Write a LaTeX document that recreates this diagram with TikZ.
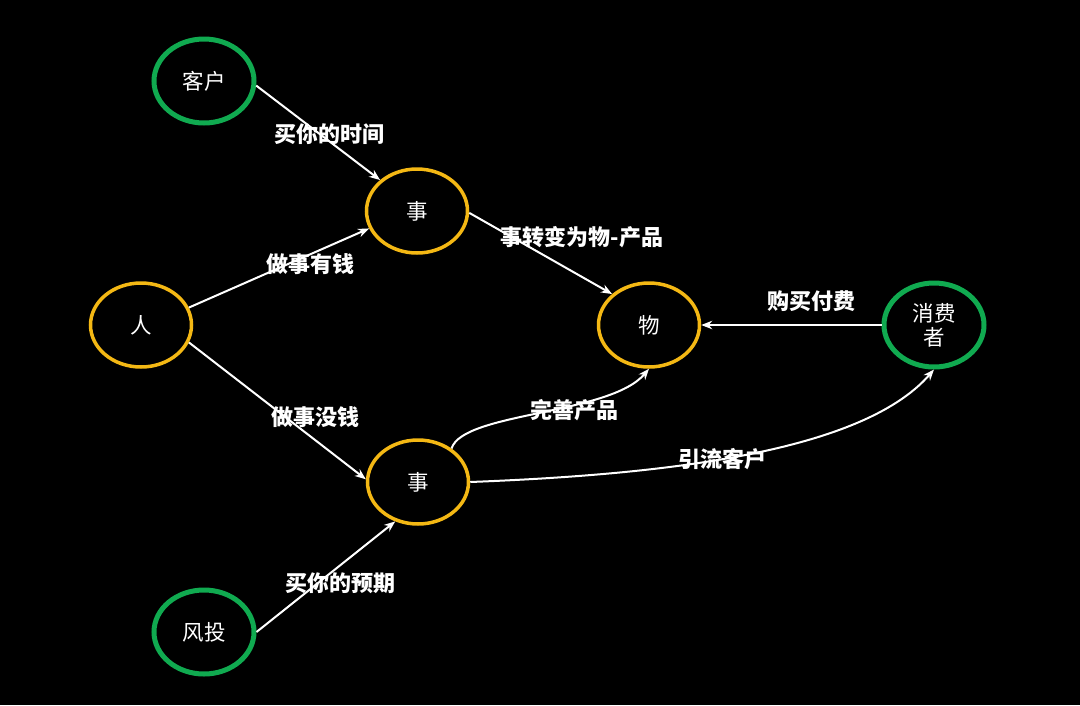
\documentclass[tikz,border=0pt]{standalone}
\usepackage{fontspec}
\setmainfont{Noto Sans CJK SC}
\usetikzlibrary{arrows.meta,shapes.geometric}
\definecolor{cgreen}{RGB}{16,170,80}
\definecolor{cyellow}{RGB}{244,184,20}
\begin{document}
\begin{tikzpicture}[x=1pt,y=-1pt,
  greennode/.style={ellipse,draw=cgreen,line width=5pt,minimum width=100pt,minimum height=84pt,inner sep=0pt,text=white,font=\fontsize{21.5}{24}\selectfont,align=center},
  yellownode/.style={ellipse,draw=cyellow,line width=3.5pt,minimum width=101pt,minimum height=84pt,inner sep=0pt,text=white,font=\fontsize{21.5}{24}\selectfont},
  lbl/.style={text=white,font=\bfseries\fontsize{22}{25}\selectfont,inner sep=0pt},
  conn/.style={white,line width=2pt,-{Stealth[length=11pt,width=8.5pt]}}]
\fill[black] (0,0) rectangle (1080,705);
\useasboundingbox (0,0) rectangle (1080,705);
\node[greennode] (kehu) at (204,81) {客户};
\node[yellownode] (shi1) at (417,211) {事};
\node[yellownode] (ren) at (141,325) {人};
\node[yellownode] (wu) at (649,325) {物};
\node[greennode] (xfz) at (934,325) {消费\\者};
\node[yellownode] (shi2) at (418,482) {事};
\node[greennode] (fengtou) at (204,632) {风投};
\draw[conn] (kehu.-5) -- (shi1.140);
\draw[conn] (ren.20) -- (shi1.200);
\draw[conn] (ren.-20) -- (shi2.177);
\draw[conn] (fengtou.0) -- (shi2.240);
\draw[conn] (shi1.-2) -- (wu.140);
\draw[conn] (xfz.west) -- (wu.east);
\draw[conn] (shi2.45) .. controls (463,412) and (610,415) .. (wu.south);
\draw[conn] (shi2.east) .. controls (650,475) and (860,455) .. (xfz.south);
\node[lbl] (l1) at (329,134) {买你的时间};
\node[lbl] (l2) at (310,264) {做事有钱};
\node[lbl] (l3) at (315,417) {做事没钱};
\node[lbl] (l4) at (340,583) {买你的预期};
\node[lbl] (l5) at (582,237) {事转变为物-产品};
\node[lbl] (l6) at (811,301) {购买付费};
\node[lbl] (l7) at (574,410) {完善产品};
\node[lbl] (l8) at (722,459) {引流客户};
\end{tikzpicture}
\end{document}
